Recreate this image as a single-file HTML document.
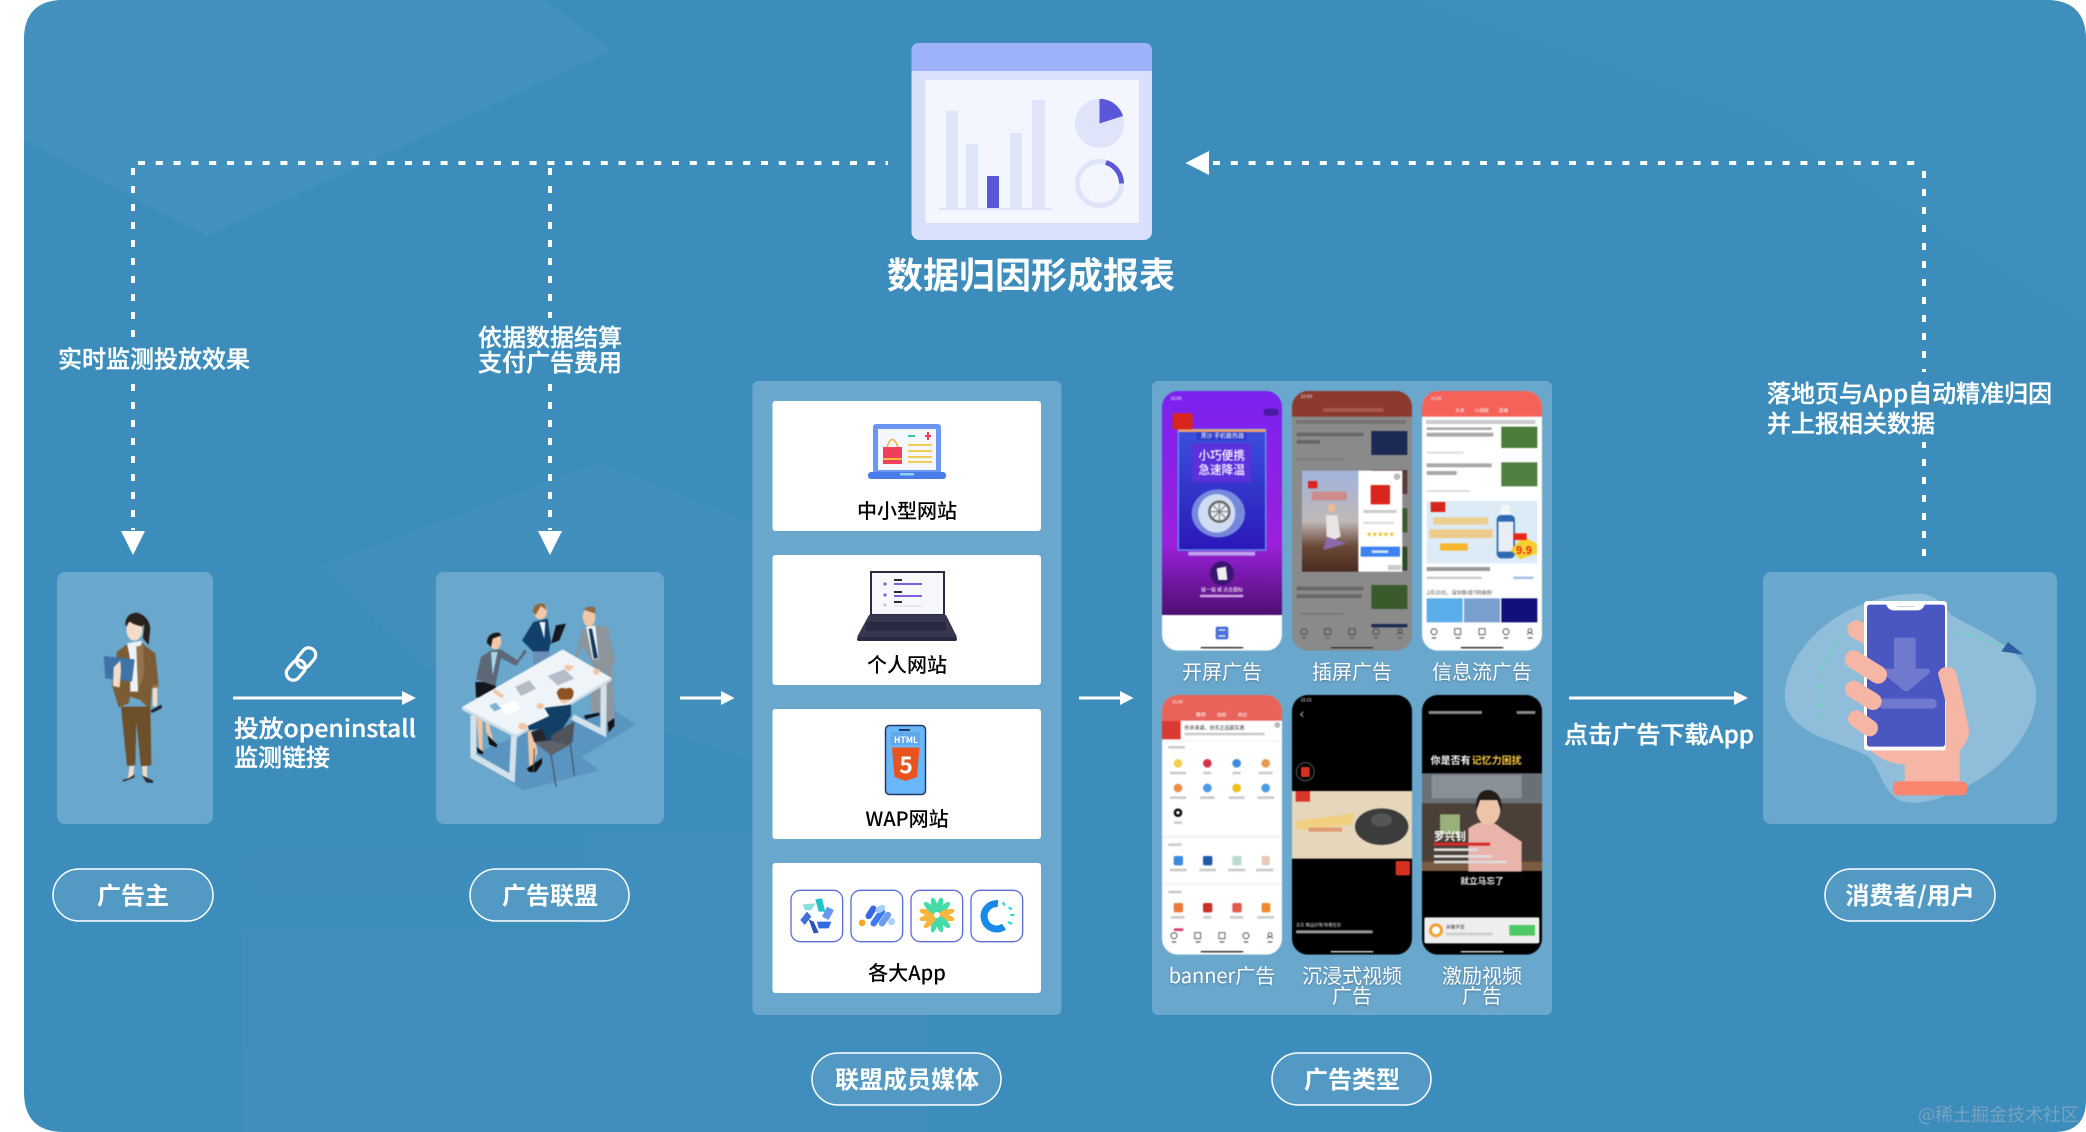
<!DOCTYPE html>
<html><head><meta charset="utf-8"><title>数据归因形成报表</title>
<style>
html,body{margin:0;padding:0;background:#fff;width:2086px;height:1132px;overflow:hidden}
svg{display:block}
text{font-family:"Noto Sans CJK SC","Liberation Sans",sans-serif}
.w{fill:#fff;font-size:24px;font-weight:500;stroke:#fff;stroke-width:.35}
.b{fill:#fff;font-size:24px;font-weight:700}
.k{fill:#000;font-size:20px;text-anchor:middle;font-weight:500}
.l{fill:#fff;font-size:20px;text-anchor:middle;font-weight:400}
.m{text-anchor:middle}
.pill{fill:#529ac4;stroke:#fff;stroke-width:1.5}
.box{fill:#6aa7cd}
.dh{stroke:#fff;stroke-width:4;fill:none;stroke-dasharray:7 10.8}
.dv{stroke:#fff;stroke-width:4;fill:none;stroke-dasharray:7 11}
.soft{filter:blur(1.4px)}
</style></head><body>
<svg width="2086" height="1132" viewBox="0 0 2086 1132" xmlns="http://www.w3.org/2000/svg">
<defs>
<clipPath id="bgc"><path d="M64 0H2046Q2086 0 2086 40V1100Q2086 1132 2054 1132H64Q24 1132 24 1092V40Q24 0 64 0Z"/></clipPath>
<linearGradient id="bg2" x1="0" y1="0" x2="0" y2="1"><stop offset="0" stop-color="#4490bd" stop-opacity="0"/><stop offset="1" stop-color="#4490bd" stop-opacity=".7"/></linearGradient>
<linearGradient id="p1" x1="0" y1="0" x2="0" y2="1"><stop offset="0" stop-color="#7a22f0"/><stop offset=".68" stop-color="#9c20dc"/><stop offset="1" stop-color="#4d0f70"/></linearGradient>
<linearGradient id="p1c" x1="0" y1="0" x2="0" y2="1"><stop offset="0" stop-color="#3c50dc"/><stop offset="1" stop-color="#2a18b8"/></linearGradient>
<linearGradient id="p2i" x1="0" y1="0" x2="0" y2="1"><stop offset="0" stop-color="#a0b4dc"/><stop offset=".5" stop-color="#c0b8b8"/><stop offset=".75" stop-color="#6a4a36"/><stop offset="1" stop-color="#4a2a1e"/></linearGradient>
<clipPath id="c1"><rect x="36" y="33" width="360" height="779" rx="48"/></clipPath>
<clipPath id="c2"><rect x="426" y="33" width="360" height="779" rx="48"/></clipPath>
<clipPath id="c3"><rect x="816" y="33" width="360" height="779" rx="48"/></clipPath>
<clipPath id="c4"><rect x="36" y="30" width="360" height="779" rx="48"/></clipPath>
<clipPath id="c5"><rect x="426" y="30" width="360" height="779" rx="48"/></clipPath>
<clipPath id="c6"><rect x="816" y="30" width="360" height="779" rx="48"/></clipPath>
<g id="nav"><circle cx="0" cy="0" r="9" fill="none" stroke="#444" stroke-width="2.5"/><rect x="-7" y="17" width="14" height="4" fill="#666"/><rect x="62" y="-9" width="18" height="18" fill="none" stroke="#444" stroke-width="2.5"/><rect x="65" y="17" width="14" height="4" fill="#666"/><rect x="135" y="-9" width="18" height="18" fill="none" stroke="#444" stroke-width="2.5"/><rect x="137" y="17" width="14" height="4" fill="#666"/><circle cx="216" cy="0" r="9" fill="none" stroke="#444" stroke-width="2.5"/><rect x="209" y="17" width="14" height="4" fill="#666"/><circle cx="288" cy="-3" r="6" fill="none" stroke="#444" stroke-width="2.5"/><path d="M279 9Q288 -3 297 9" fill="none" stroke="#444" stroke-width="2.5"/><rect x="281" y="17" width="14" height="4" fill="#666"/></g>
</defs>

<!-- background -->
<g clip-path="url(#bgc)">
<rect x="0" y="0" width="2086" height="1132" fill="#3d8dbc"/>
<polygon points="24,140 206,236 612,50 545,0 24,0" fill="#4391be"/>
<polygon points="1410,0 2086,0 2086,325 1760,120" fill="#3f8fbc"/>
<polygon points="320,566 600,462 752,523 752,760 660,730 430,670" fill="#408fbc"/>
<rect x="243" y="830" width="340" height="302" fill="url(#bg2)"/>
<rect x="583" y="830" width="345" height="302" fill="#418fbd" opacity=".7"/>
</g>

<!-- dashed routes -->
<path class="dh" d="M138 163H888"/>
<path class="dv" d="M133 168V530"/>
<path class="dv" d="M550 168V530"/>
<polygon points="121,531 145,531 133,555" fill="#fff"/>
<polygon points="538,531 562,531 550,555" fill="#fff"/>
<path class="dh" d="M1213 163H1924"/>
<path class="dv" d="M1924 171V556"/>
<polygon points="1185.5,163 1209,151 1209,175" fill="#fff"/>
<rect x="50" y="338" width="205" height="46" fill="#3d8dbc"/>
<rect x="470" y="318" width="160" height="66" fill="#3d8dbc"/>
<rect x="1760" y="372" width="300" height="70" fill="#3d8dbc"/>
<text class="w" x="58" y="367.5">实时监测投放效果</text>
<text class="w m" x="550" y="346">依据数据结算</text>
<text class="w m" x="550" y="371">支付广告费用</text>
<text class="w" x="1767" y="402">落地页与App自动精准归因</text>
<text class="w" x="1767" y="432">并上报相关数据</text>

<!-- report -->
<rect x="911.5" y="43" width="240.5" height="197" rx="8" fill="#d9e0fb"/>
<path d="M911.5 71V51Q911.5 43 919.5 43H1144Q1152 43 1152 51V71Z" fill="#9db2fb"/>
<rect x="925.5" y="80" width="213.5" height="143" fill="#f3f6fe"/>
<rect x="946" y="111" width="12" height="98" fill="#dfe4fb"/>
<rect x="966" y="144" width="12" height="65" fill="#dfe4fb"/>
<rect x="987" y="176" width="12" height="33" fill="#5858d8"/>
<rect x="1010" y="133" width="12" height="76" fill="#dfe4fb"/>
<rect x="1032" y="100" width="13" height="109" fill="#dfe4fb"/>
<rect x="939" y="208" width="113" height="2" fill="#dfe4fb"/>
<circle cx="1099.5" cy="123.5" r="24.5" fill="#dfe4fb"/>
<path d="M1099.5 123.5V99L1103 99A24.5 24.5 0 0 1 1123 116Z" fill="#5858d8"/>
<circle cx="1099.5" cy="183.5" r="22" fill="none" stroke="#dfe4fb" stroke-width="5"/>
<path d="M1106 162.5A22 22 0 0 1 1121.5 183.5" fill="none" stroke="#5858d8" stroke-width="5"/>
<text class="b m" x="1031" y="288" style="font-size:36px">数据归因形成报表</text>

<!-- arrows -->
<path d="M233 698H404" stroke="#fff" stroke-width="3"/><polygon points="402,691 416,698 402,705" fill="#fff"/>
<path d="M680 698H723" stroke="#fff" stroke-width="3"/><polygon points="721,691 734.5,698 721,705" fill="#fff"/>
<path d="M1079 698H1122" stroke="#fff" stroke-width="3"/><polygon points="1120,691 1133.5,698 1120,705" fill="#fff"/>
<path d="M1569 698H1736" stroke="#fff" stroke-width="3"/><polygon points="1734,691 1748,698 1734,705" fill="#fff"/>
<g transform="translate(301,664) rotate(40)" fill="none" stroke="#fff" stroke-width="3.2">
<rect x="-7" y="-19" width="14" height="22" rx="7"/><rect x="-7" y="-3" width="14" height="22" rx="7"/></g>
<text class="w" x="234" y="737" textLength="182" lengthAdjust="spacingAndGlyphs">投放openinstall</text>
<text class="w" x="234" y="766">监测链接</text>
<text class="w" x="1564" y="743" textLength="190" lengthAdjust="spacingAndGlyphs">点击广告下载App</text>

<!-- boxes -->
<rect class="box" x="57" y="572" width="156" height="252" rx="8"/>
<rect class="box" x="436" y="572" width="228" height="252" rx="8"/>
<rect class="box" x="1763" y="572" width="294" height="252" rx="8"/>

<!-- pills -->
<rect class="pill" x="53" y="869" width="160" height="52" rx="26"/><text class="b m" x="133" y="904">广告主</text>
<rect class="pill" x="470" y="869" width="159" height="52" rx="26"/><text class="b m" x="550" y="904">广告联盟</text>
<rect class="pill" x="812" y="1053" width="189" height="52" rx="26"/><text class="b m" x="907" y="1088">联盟成员媒体</text>
<rect class="pill" x="1272" y="1053" width="159" height="52" rx="26"/><text class="b m" x="1352" y="1088">广告类型</text>
<rect class="pill" x="1825" y="869" width="170" height="52" rx="26"/><text class="b m" x="1910" y="904">消费者/用户</text>

<!-- advertiser (3x crop coords) -->
<g transform="translate(57,590) scale(.33333)" class="soft">
<path d="M205 105Q205 70 240 68Q275 78 280 115L275 165L258 145L262 105L212 112Z" fill="#2a211c"/>
<ellipse cx="232" cy="120" rx="24" ry="32" fill="#f5dcc6"/>
<path d="M205 105Q220 78 250 85L258 110Q230 105 218 95Z" fill="#2a211c"/>
<path d="M180 185L215 160L255 160L295 190L305 285L285 290L280 360L250 330L220 320L215 340L185 352L165 285Z" fill="#7c5c35"/>
<path d="M210 160L255 152L246 200L243 305H220L218 200Z" fill="#eef2f6"/>
<path d="M238 170L258 165L262 250L243 305Z" fill="#94734a"/>
<path d="M192 350L280 350L283 525L252 530L238 395L235 525L210 528Z" fill="#6d4f29"/>
<polygon points="140,198 233,208 225,275 145,265" fill="#3f73a8"/>
<path d="M168 288L170 232L190 212L192 240L188 292Z" fill="#f5dcc6"/>
<rect x="287" y="290" width="14" height="60" rx="6" fill="#f5dcc6"/>
<path d="M282 290L306 280L304 292L284 295Z" fill="#94734a"/>
<path d="M280 362L312 344Q318 350 312 356L285 369Z" fill="#1b2430"/>
<path d="M218 528L232 528L228 562L212 568Z" fill="#f5dcc6"/><path d="M255 528L270 528L270 565L258 560Z" fill="#f5dcc6"/>
<path d="M196 570Q215 568 232 553L232 562L200 575Z" fill="#2b2626"/>
<path d="M255 556L288 572V579L268 577Z" fill="#2b2626"/>
</g>

<!-- team (3x crop coords) -->
<g transform="translate(436,572) scale(.33333)" class="soft">
<polygon points="100,550 262,655 490,595 435,555 600,458 525,410 300,470" fill="#5a94c0"/>
<!-- left woman -->
<path d="M122 372L122 445L130 540L140 540L140 445Z" fill="#eec3a2"/><path d="M145 375L150 480L175 520L165 480Z" fill="#eec3a2"/>
<path d="M122 525L142 540L140 548L125 542Z" fill="#111"/><path d="M155 490L184 518L182 526L160 518Z" fill="#111"/>
<path d="M118 330H180L176 378L120 376Z" fill="#12151c"/>
<path d="M135 255L165 235L195 232L245 265L265 232L272 240L240 282L195 258L178 342L120 322Z" fill="#5c6878"/>
<path d="M165 240H185L170 310Z" fill="#a8d4ec"/>
<ellipse cx="178" cy="208" rx="18" ry="24" fill="#f2c7a8"/><path d="M152 212Q155 180 190 182L196 190L170 200L165 225Z" fill="#1a1a1e"/>
<!-- center woman -->
<path d="M290 232L340 228L342 250L292 280Z" fill="#6b8fb6"/>
<path d="M258 205L292 150L335 140L345 210L338 238L290 238Z" fill="#12406c"/>
<path d="M310 150H328L325 200Z" fill="#eef2f6"/>
<ellipse cx="313" cy="118" rx="20" ry="24" fill="#f2c7a8"/><path d="M290 118Q295 90 325 95L332 115L315 102L298 130Z" fill="#94683c"/>
<polygon points="345,215 360,160 390,155 370,205" fill="#15181e"/>
<!-- man -->
<path d="M465 335L530 298L535 440L515 475L510 425L465 420Z" fill="#8f969e"/>
<path d="M445 430L490 422V430L448 442Z" fill="#12151c"/><path d="M515 452L535 438V462L518 482Z" fill="#12151c"/>
<path d="M412 272L440 170L470 158L515 165L537 262L522 305L480 300L465 272L443 222Z" fill="#8c949c"/>
<path d="M450 165L478 160L488 260L470 262Z" fill="#eef2f6"/>
<path d="M458 170H468L486 258L473 260Z" fill="#17395e"/>
<ellipse cx="459" cy="135" rx="19" ry="28" fill="#f2c7a8"/><path d="M440 120Q448 98 478 106L478 125L442 112Z" fill="#8d6a48"/>
<!-- legs of table -->
<path d="M112 430L112 552L228 618L234 490" fill="none" stroke="#d2e1ea" stroke-width="18"/>
<path d="M503 335L502 482L410 435" fill="none" stroke="#d2e1ea" stroke-width="18"/>
<!-- table -->
<polygon points="78,405 380,232 527,318 240,490" fill="#eef4f8"/>
<polygon points="78,405 240,490 527,318 527,326 240,498 78,414" fill="#ccdbe6"/>
<polygon points="238,345 280,325 300,350 255,372" fill="#b4bcc8"/>
<polygon points="335,312 385,292 415,320 365,340" fill="#b4bcc8"/>
<polygon points="195,402 238,385 252,410 210,428" fill="#fff"/>
<polygon points="160,400 180,392 195,410 175,418" fill="#7fb3d8"/>
<path d="M388 278L415 282L400 298L385 290Z" fill="#f2c7a8"/><path d="M175 350L205 370L198 380L170 360Z" fill="#f2c7a8"/>
<path d="M470 292L492 292L488 308L474 308Z" fill="#f2c7a8"/><ellipse cx="260" cy="463" rx="14" ry="10" fill="#f2c7a8"/>
<ellipse cx="313" cy="402" rx="11" ry="9" fill="#f2c7a8"/>
<!-- seated woman -->
<path d="M275 480L290 470L305 540L288 595L280 590Z" fill="#f0c5a5"/>
<path d="M272 590L295 575L318 558V575L300 600L280 600Z" fill="#111"/>
<path d="M285 480L330 465L395 505L340 532L295 510Z" fill="#24272f"/>
<path d="M275 462L340 432L325 408L345 405L405 398L405 430L360 500L335 515L318 470L280 475Z" fill="#123f66"/>
<ellipse cx="385" cy="372" rx="18" ry="22" fill="#f2c7a8"/>
<path d="M362 362Q370 342 390 350Q410 342 413 362Q410 388 395 382Q372 385 368 378Z" fill="#8e5224"/>
<path d="M345 490L415 448L410 510L350 548Z" fill="#4e535c"/>
<path d="M295 510L345 550L400 520L345 505Z" fill="#5e636c"/>
<path d="M345 545L360 645M402 510L415 610M295 530L293 598" stroke="#444a52" stroke-width="3" fill="none"/>
</g>

<!-- consumer (3x crop coords) -->
<g transform="translate(1763,572) scale(.33333)">
<path d="M65 370C70 230 230 70 460 65C520 65 545 100 560 125C620 170 820 230 820 370C815 500 690 620 560 665C500 695 430 700 400 680C350 640 345 570 310 550C240 510 65 490 65 370Z" fill="#90bdd9"/>
<path d="M172 435Q140 290 250 170" fill="none" stroke="#57e0a8" stroke-width="4" stroke-dasharray="14 14"/>
<path d="M560 180Q650 190 720 225" fill="none" stroke="#57e0a8" stroke-width="4" stroke-dasharray="14 14"/>
<polygon points="715,238 735,210 782,248" fill="#2e5fa0"/>
<path d="M425 570H590V640H425Z" fill="#f5b6a6"/>
<path d="M318 530Q360 575 430 578L590 575V530Z" fill="#f5b6a6"/>
<path d="M280 172L320 195" stroke="#f5b6a6" stroke-width="54" stroke-linecap="round"/>
<rect x="303" y="87" width="249" height="448" rx="10" fill="#fff"/>
<rect x="312" y="98" width="234" height="426" rx="8" fill="#4a57c0"/>
<path d="M367 92H488Q480 115 465 115H390Q375 115 367 92Z" fill="#fff"/>
<rect x="403" y="102" width="52" height="2.5" fill="#c0c8d0"/>
<rect x="393" y="197" width="65" height="95" rx="6" fill="#7079cd"/>
<path d="M362 290H492Q505 292 498 305L438 355Q430 360 422 355L360 305Q355 292 362 290Z" fill="#7079cd"/>
<rect x="345" y="380" width="177" height="30" rx="15" fill="#7079cd"/>
<path d="M525 305Q530 285 555 285Q575 285 582 310L618 470Q620 505 590 535H548V390Z" fill="#f5b6a6"/>
<path d="M272 262L345 308" stroke="#f5b6a6" stroke-width="54" stroke-linecap="round"/>
<path d="M272 352L330 388" stroke="#f5b6a6" stroke-width="52" stroke-linecap="round"/>
<path d="M280 440L320 468" stroke="#f5b6a6" stroke-width="50" stroke-linecap="round"/>
<rect x="390" y="628" width="222" height="42" rx="14" fill="#fb866f"/>
</g>

<!-- media panel -->
<rect class="box" x="752.5" y="381" width="309" height="634" rx="6"/>
<rect x="772.5" y="401" width="268.5" height="130" rx="3" fill="#fff"/>
<rect x="772.5" y="555" width="268.5" height="130" rx="3" fill="#fff"/>
<rect x="772.5" y="709" width="268.5" height="130" rx="3" fill="#fff"/>
<rect x="772.5" y="863" width="268.5" height="130" rx="3" fill="#fff"/>
<text class="k" x="907" y="518">中小型网站</text>
<text class="k" x="907" y="672">个人网站</text>
<text class="k" x="907" y="826">WAP网站</text>
<text class="k" x="907" y="980">各大App</text>
<!-- laptop 1 -->
<rect x="873" y="424" width="68" height="50" rx="3" fill="#6b97f0"/>
<rect x="878" y="429" width="58" height="41" fill="#f4f7fb"/>
<rect x="868" y="472" width="78" height="7" rx="3" fill="#4a7be8"/>
<rect x="900" y="473" width="14" height="2.5" fill="#8bd2f2"/>
<path d="M883 447H902V464H883Z" fill="#ef3f5b"/><path d="M887 447Q892 432 898 447" fill="none" stroke="#e9b43a" stroke-width="1.5"/>
<rect x="883" y="458" width="19" height="2" fill="#f0c04a"/>
<rect x="908" y="444" width="24" height="2" fill="#f2cc52"/><rect x="908" y="450" width="24" height="2" fill="#f2cc52"/><rect x="908" y="456" width="24" height="2" fill="#f2cc52"/><rect x="908" y="461" width="24" height="2" fill="#f2cc52"/>
<rect x="908" y="435" width="7" height="2" fill="#3fc8a8"/><rect x="925" y="435" width="6" height="2" fill="#ef3f5b"/><rect x="927" y="432" width="2" height="8" fill="#ef3f5b"/>
<!-- laptop 2 -->
<rect x="870" y="571" width="75" height="45" fill="#2a2b42"/>
<rect x="872" y="573" width="71" height="41" fill="#f7f8fc"/>
<polygon points="869,615 946,615 957,637 857,637" fill="#37384f"/>
<rect x="857" y="637" width="100" height="4" rx="2" fill="#2a2b42"/>
<rect x="894" y="583" width="28" height="2" fill="#7a63d8"/><rect x="894" y="595" width="28" height="2" fill="#7a63d8"/><rect x="894" y="605" width="28" height="2" fill="#e8e8ee"/>
<rect x="894" y="579" width="8" height="2" fill="#2a2b42"/><rect x="894" y="591" width="8" height="2" fill="#2a2b42"/><rect x="894" y="601" width="8" height="2" fill="#2a2b42"/>
<circle cx="885" cy="584" r="1.6" fill="#7a63d8"/><circle cx="885" cy="595" r="1.6" fill="#7a63d8"/><circle cx="885" cy="605" r="1.6" fill="#ccc"/>
<rect x="866" y="622" width="80" height="9" fill="#2a2b42"/>
<!-- html5 phone -->
<rect x="885.5" y="725.5" width="40" height="69" rx="4" fill="#69b6f8" stroke="#223a66" stroke-width="1.5"/>
<rect x="899" y="729" width="11" height="2" fill="#223a66"/>
<rect x="891" y="732" width="29" height="13" fill="#61a8e8"/>
<text x="906" y="743" class="m" style="font-size:8.5px;font-weight:700;fill:#fff">HTML</text>
<polygon points="892,747.5 919.5,747.5 917,777 905.7,781 894.5,777" fill="#e85420"/>
<text x="906" y="773" class="m" style="font-size:23px;font-weight:700;fill:#fff">5</text>
<!-- app icons (3x crop coords) -->
<g transform="translate(772,860) scale(.33333)">
<g fill="#fff" stroke="#5b6fd8" stroke-width="4">
<rect x="57" y="91" width="155" height="154" rx="28"/><rect x="237" y="91" width="155" height="154" rx="28"/><rect x="417" y="91" width="155" height="154" rx="28"/><rect x="597" y="91" width="155" height="154" rx="28"/>
</g>
<polygon points="92,133 130,130 118,150 98,150" fill="#88e0dc"/>
<polygon points="130,118 150,115 160,155 140,155" fill="#20c4c8"/>
<polygon points="165,140 186,150 170,180 150,170" fill="#6a9af0"/>
<polygon points="135,185 178,185 170,205 140,205" fill="#2f6ae0"/>
<polygon points="110,178 125,185 140,218 125,220" fill="#2a52b8"/>
<polygon points="105,155 118,170 98,195 85,180" fill="#4070d8"/>
<g stroke-linecap="round" stroke-width="19" fill="none">
<path d="M270 189L271 188" stroke="#f6a821"/>
<path d="M290 168L304 146" stroke="#3667e8"/>
<path d="M305 190L330 155" stroke="#3f78ee"/>
<path d="M320 150L330 144" stroke="#a4cdf8"/>
<path d="M330 190L348 165" stroke="#6a9cf0"/>
<path d="M358 186L360 184" stroke="#a8d0fa"/>
</g>
<g>
<ellipse cx="495" cy="135" rx="9" ry="24" transform="rotate(15 495 165)" fill="#45dca8"/>
<ellipse cx="495" cy="135" rx="9" ry="24" transform="rotate(45 495 165)" fill="#45dca8"/>
<ellipse cx="495" cy="135" rx="9" ry="24" transform="rotate(75 495 165)" fill="#f7b53c"/>
<ellipse cx="495" cy="135" rx="9" ry="24" transform="rotate(105 495 165)" fill="#f7b53c"/>
<ellipse cx="495" cy="135" rx="9" ry="24" transform="rotate(135 495 165)" fill="#45dca8"/>
<ellipse cx="495" cy="135" rx="9" ry="24" transform="rotate(165 495 165)" fill="#45dca8"/>
<ellipse cx="495" cy="135" rx="9" ry="24" transform="rotate(195 495 165)" fill="#45dca8"/>
<ellipse cx="495" cy="135" rx="9" ry="24" transform="rotate(225 495 165)" fill="#f7b53c"/>
<ellipse cx="495" cy="135" rx="9" ry="24" transform="rotate(255 495 165)" fill="#f7b53c"/>
<ellipse cx="495" cy="135" rx="9" ry="24" transform="rotate(285 495 165)" fill="#f7b53c"/>
<ellipse cx="495" cy="135" rx="9" ry="24" transform="rotate(315 495 165)" fill="#45dca8"/>
<ellipse cx="495" cy="135" rx="9" ry="24" transform="rotate(345 495 165)" fill="#45dca8"/>
<circle cx="495" cy="165" r="9" fill="#fff"/>
</g>
<path d="M678 131A38 38 0 1 0 696 200" fill="none" stroke="#1a8ae8" stroke-width="21"/>
<path d="M692 128L699 136M710 142L720 148M715 165H727M708 186L720 192" stroke="#28d8d8" stroke-width="7"/>
</g>

<!-- ads panel -->
<rect class="box" x="1152" y="381" width="400" height="634" rx="6"/>
<g style="filter:drop-shadow(0 1px 1px rgba(0,0,0,.25))">
<text class="l" x="1222" y="679">开屏广告</text>
<text class="l" x="1352" y="679">插屏广告</text>
<text class="l" x="1482" y="679">信息流广告</text>
<text class="l" x="1222" y="983">banner广告</text>
<text class="l" x="1352" y="983">沉浸式视频</text>
<text class="l" x="1352" y="1003">广告</text>
<text class="l" x="1482" y="983">激励视频</text>
<text class="l" x="1482" y="1003">广告</text>
</g>

<g transform="translate(1150,380) scale(.33333)" class="soft">
<!-- phone 1 -->
<g clip-path="url(#c1)">
<rect x="36" y="33" width="360" height="672" fill="url(#p1)"/>
<rect x="36" y="705" width="360" height="107" fill="#fff"/>
<text x="62" y="60" style="font-size:13px;fill:#fff">15:06</text>
<rect x="340" y="86" width="46" height="22" rx="11" fill="#4a1aa0"/>
<rect x="85" y="148" width="262" height="362" fill="url(#p1c)" stroke="#5a9cf0" stroke-width="4"/>
<rect x="85" y="148" width="262" height="8" fill="#f0a070"/>
<rect x="68" y="100" width="60" height="48" fill="#d9251c"/>
<rect x="140" y="156" width="150" height="24" fill="#2c3bc8"/>
<text class="m" x="217" y="174" style="font-size:18px;fill:#fff">黑沙 手机散热器</text>
<rect x="127" y="190" width="175" height="117" fill="#5c30dc"/>
<text class="m" x="215" y="238" style="font-size:35px;font-weight:500;fill:#fff">小巧便携</text>
<text class="m" x="215" y="282" style="font-size:35px;font-weight:500;fill:#fff">急速降温</text>
<ellipse cx="205" cy="400" rx="80" ry="72" fill="#8fa8e4" opacity=".75"/>
<ellipse cx="200" cy="400" rx="56" ry="58" fill="#cfdcf2"/>
<circle cx="208" cy="395" r="32" fill="#e8ecf2"/><circle cx="208" cy="395" r="30" fill="none" stroke="#666" stroke-width="7"/><path d="M208 365V425M178 395H238M187 374L229 416M229 374L187 416" stroke="#777" stroke-width="3"/>
<rect x="115" y="515" width="200" height="12" fill="#c0a0ee"/>
<circle cx="216" cy="580" r="36" fill="#3a1570"/>
<path d="M200 565L228 560L232 600L205 600Z" fill="#eee"/>
<text class="m" x="216" y="634" style="font-size:15px;fill:#fff">摇一摇 或 点击图标</text>
<rect x="150" y="644" width="130" height="8" fill="#c8a0e0"/>
<rect x="197" y="740" width="38" height="38" rx="6" fill="#4b6fd8"/>
<path d="M206 750H226M206 768H226" stroke="#fff" stroke-width="4"/>
<rect x="152" y="801" width="128" height="4" rx="2" fill="#222"/>
</g>
<!-- phone 2 -->
<g clip-path="url(#c2)">
<rect x="426" y="33" width="360" height="779" fill="#8a8a8a"/>
<rect x="426" y="33" width="360" height="77" fill="#8c3a2e"/>
<text x="452" y="54" style="font-size:14px;fill:#eee">15:09</text>
<rect x="520" y="84" width="180" height="12" fill="#a85848"/>
<rect x="438" y="120" width="330" height="12" fill="#757575"/>
<rect x="440" y="158" width="200" height="11" fill="#666"/><rect x="440" y="180" width="70" height="11" fill="#666"/>
<rect x="440" y="235" width="140" height="6" fill="#7a7a7a"/>
<rect x="664" y="153" width="108" height="72" fill="#1c2a55"/>
<rect x="664" y="270" width="108" height="72" fill="#5a3a3a"/>
<rect x="664" y="385" width="108" height="72" fill="#3a5a2c"/>
<rect x="664" y="500" width="108" height="72" fill="#2a4a28"/>
<rect x="664" y="615" width="108" height="72" fill="#3a5a2c"/>
<rect x="440" y="620" width="200" height="11" fill="#666"/><rect x="440" y="643" width="195" height="11" fill="#666"/>
<rect x="450" y="698" width="130" height="6" fill="#7a7a7a"/>
<rect x="664" y="732" width="108" height="10" fill="#1c2a55"/>
<rect x="456" y="272" width="169" height="303" fill="url(#p2i)"/>
<rect x="625" y="272" width="132" height="303" fill="#fff"/>
<rect x="474" y="303" width="28" height="22" fill="#d9251c"/>
<rect x="485" y="335" width="105" height="26" fill="#d87a70" opacity=".7"/>
<ellipse cx="545" cy="385" rx="13" ry="14" fill="#e8b898"/>
<path d="M528 405H562L572 470L530 490Z" fill="#e8e4e4"/>
<path d="M530 470L590 490L520 510Z" fill="#8a6aa8"/>
<circle cx="741" cy="290" r="10" fill="#bbb"/>
<rect x="662" y="315" width="58" height="58" rx="4" fill="#d9251c"/>
<rect x="640" y="390" width="100" height="9" fill="#ccc"/><rect x="640" y="425" width="92" height="7" fill="#ddd"/>
<text class="m" x="691" y="468" style="font-size:17px;fill:#e8c020">★★★★★</text>
<rect x="632" y="500" width="118" height="30" fill="#3b82f0"/>
<rect x="665" y="511" width="50" height="8" fill="#cfe0fb"/>
<rect x="714" y="555" width="40" height="15" fill="#ccc"/>
<use href="#nav" x="462" y="755"/>
<rect x="542" y="801" width="128" height="4" rx="2" fill="#333"/>
</g>
<!-- phone 3 -->
<g clip-path="url(#c3)">
<rect x="816" y="33" width="360" height="779" fill="#fff"/>
<rect x="816" y="33" width="360" height="77" fill="#f5625a"/>
<text x="842" y="60" style="font-size:13px;fill:#fff">15:06</text>
<text x="930" y="96" class="m" style="font-size:14px;fill:#fff">头条</text><text x="995" y="96" class="m" style="font-size:14px;fill:#fff">小视频</text><text x="1060" y="96" class="m" style="font-size:14px;fill:#fff">直播</text>
<rect x="828" y="120" width="328" height="12" fill="#ccc"/>
<rect x="830" y="142" width="195" height="8" fill="#aaa"/><rect x="830" y="158" width="200" height="12" fill="#aaa"/>
<rect x="1054" y="140" width="108" height="64" fill="#4b7d3a"/>
<rect x="830" y="215" width="110" height="6" fill="#ddd"/>
<rect x="830" y="250" width="195" height="12" fill="#aaa"/><rect x="830" y="273" width="90" height="12" fill="#aaa"/>
<rect x="1054" y="247" width="108" height="72" fill="#4f8042"/>
<rect x="830" y="330" width="130" height="6" fill="#ddd"/>
<rect x="830" y="363" width="332" height="187" fill="#dcebf6"/>
<rect x="842" y="366" width="44" height="30" fill="#d9251c"/>
<rect x="850" y="412" width="165" height="22" fill="#ecd090"/>
<rect x="838" y="448" width="190" height="26" fill="#eecb88"/>
<rect x="870" y="490" width="84" height="22" rx="5" fill="#f5b82e"/>
<rect x="1052" y="375" width="28" height="30" rx="6" fill="#f4f6f8"/>
<rect x="1040" y="405" width="55" height="130" rx="14" fill="#2f6ab0"/>
<rect x="1045" y="425" width="45" height="90" fill="#e8eef4"/>
<polygon points="1120,470 1160,490 1162,520 1110,538 1082,510" fill="#f6d02f"/>
<text x="1122" y="522" class="m" style="font-size:32px;font-weight:700;fill:#e8261c">9.9</text>
<rect x="1090" y="460" width="40" height="20" fill="#e8261c"/>
<rect x="830" y="561" width="190" height="12" fill="#999"/>
<rect x="830" y="590" width="165" height="7" fill="#ccc"/><rect x="1090" y="590" width="60" height="7" fill="#9cc0e8"/>
<text x="830" y="644" style="font-size:16px;fill:#555">2月20日，深圳新增7例病例</text>
<rect x="830" y="655" width="108" height="72" fill="#5aaeea"/>
<rect x="942" y="655" width="108" height="72" fill="#7aa0d0"/>
<rect x="1054" y="655" width="108" height="72" fill="#10107a"/>
<use href="#nav" x="852" y="755"/>
<rect x="932" y="801" width="128" height="4" rx="2" fill="#222"/>
</g>
</g>

<g transform="translate(1150,685) scale(.33333)" class="soft">
<!-- phone 4 -->
<g clip-path="url(#c4)">
<rect x="36" y="30" width="360" height="779" fill="#fff"/>
<rect x="36" y="30" width="360" height="77" fill="#e9635a"/>
<text x="66" y="56" style="font-size:13px;fill:#fff">16:04</text>
<text x="153" y="94" class="m" style="font-size:15px;fill:#fff">推荐</text><text x="215" y="94" class="m" style="font-size:14px;fill:#fff">视频</text><text x="278" y="94" class="m" style="font-size:14px;fill:#fff">附近</text>
<rect x="36" y="107" width="56" height="56" fill="#d93a32"/>
<text x="104" y="133" style="font-size:15px;fill:#333">秒杀来袭，抢东正品超实惠</text>
<rect x="104" y="143" width="240" height="8" fill="#ccc"/>
<circle cx="382" cy="120" r="9" fill="#bbb"/>
<rect x="36" y="167" width="360" height="3" fill="#f2f2f2"/>
<rect x="55" y="183" width="50" height="8" fill="#ccc"/>
<circle cx="84" cy="235" r="13" fill="#f4cf50"/><circle cx="172" cy="235" r="13" fill="#d8324a"/><circle cx="260" cy="235" r="13" fill="#3a8ae0"/><circle cx="347" cy="235" r="13" fill="#e89850"/>
<rect x="60" y="260" width="48" height="8" fill="#ccc"/><rect x="160" y="260" width="24" height="8" fill="#ccc"/><rect x="248" y="260" width="24" height="8" fill="#ccc"/><rect x="326" y="260" width="42" height="8" fill="#ccc"/>
<circle cx="84" cy="309" r="13" fill="#ec9048"/><circle cx="172" cy="309" r="13" fill="#4a9ae8"/><circle cx="260" cy="309" r="13" fill="#f0c020"/><circle cx="347" cy="309" r="13" fill="#4a9ae8"/>
<rect x="60" y="334" width="48" height="8" fill="#ccc"/><rect x="150" y="334" width="44" height="8" fill="#ccc"/><rect x="236" y="334" width="48" height="8" fill="#ccc"/><rect x="322" y="334" width="50" height="8" fill="#ccc"/>
<circle cx="84" cy="383" r="13" fill="#111"/><circle cx="84" cy="383" r="5" fill="#fff"/>
<rect x="72" y="409" width="24" height="8" fill="#ccc"/>
<rect x="36" y="450" width="360" height="10" fill="#f5f5f5"/>
<rect x="55" y="475" width="40" height="8" fill="#ccc"/>
<rect x="71" y="513" width="28" height="28" rx="5" fill="#3a8ae0"/><rect x="159" y="513" width="28" height="28" rx="5" fill="#1f5aa8"/><rect x="247" y="513" width="28" height="28" rx="5" fill="#bcdcd0"/><rect x="335" y="513" width="24" height="28" rx="5" fill="#e8c8b8"/>
<rect x="60" y="551" width="50" height="8" fill="#ccc"/><rect x="148" y="551" width="50" height="8" fill="#ccc"/><rect x="234" y="551" width="52" height="8" fill="#ccc"/><rect x="318" y="551" width="52" height="8" fill="#ccc"/>
<rect x="36" y="592" width="360" height="10" fill="#f5f5f5"/>
<rect x="55" y="617" width="40" height="8" fill="#ccc"/>
<rect x="71" y="654" width="28" height="28" rx="5" fill="#ec7b3a"/><rect x="159" y="654" width="28" height="28" rx="5" fill="#c9302a"/><rect x="247" y="654" width="28" height="28" rx="5" fill="#e05a50"/><rect x="335" y="654" width="26" height="28" rx="5" fill="#f08a30"/>
<rect x="62" y="693" width="42" height="8" fill="#ccc"/><rect x="160" y="693" width="24" height="8" fill="#ccc"/><rect x="240" y="693" width="40" height="8" fill="#ccc"/><rect x="322" y="693" width="50" height="8" fill="#ccc"/>
<rect x="72" y="730" width="28" height="8" fill="#d83a6a"/>
<use href="#nav" x="72" y="752"/>
<rect x="152" y="798" width="128" height="4" rx="2" fill="#222"/>
</g>
<!-- phone 5 -->
<g clip-path="url(#c5)">
<rect x="426" y="30" width="360" height="779" fill="#000"/>
<text x="452" y="50" style="font-size:13px;fill:#fff">15:15</text>
<path d="M460 80L452 88L460 95" stroke="#ccc" stroke-width="2.5" fill="none"/>
<circle cx="466" cy="260" r="27" fill="none" stroke="#888" stroke-width="2"/>
<rect x="453" y="246" width="26" height="30" rx="3" fill="#d8321f"/>
<rect x="426" y="318" width="360" height="203" fill="#e6d6bb"/>
<rect x="437" y="318" width="43" height="32" fill="#d9352a"/>
<polygon points="438,408 612,385 606,420 440,435" fill="#f0d080"/>
<rect x="476" y="428" width="100" height="12" fill="#e09a70"/>
<ellipse cx="695" cy="425" rx="80" ry="55" fill="#3c3c3c"/><ellipse cx="695" cy="405" rx="32" ry="20" fill="#555"/>
<rect x="737" y="528" width="43" height="43" rx="5" fill="#d8321f"/>
<text x="438" y="724" style="font-size:13px;fill:#ddd">京东 精品好物 特惠狂欢</text>
<rect x="438" y="736" width="230" height="9" fill="#999"/>
<rect x="542" y="798" width="128" height="4" rx="2" fill="#ddd"/>
</g>
<!-- phone 6 -->
<g clip-path="url(#c6)">
<rect x="816" y="30" width="360" height="779" fill="#000"/>
<rect x="836" y="78" width="160" height="9" fill="#888"/><rect x="1100" y="78" width="56" height="9" fill="#888"/>
<text x="842" y="237" style="font-size:30px;font-weight:700;fill:#fff">你是否有</text>
<text x="965" y="237" style="font-size:30px;font-weight:700;fill:#f5c842">记忆力困扰</text>
<rect x="816" y="265" width="360" height="293" fill="#4a4038"/>
<rect x="816" y="265" width="360" height="90" fill="#6a7078"/>
<rect x="845" y="270" width="270" height="70" fill="#8a9098"/>
<rect x="816" y="530" width="360" height="28" fill="#7a5a40"/>
<rect x="870" y="388" width="60" height="60" fill="#9ab07a"/>
<path d="M955 560V430Q1010 390 1055 430L1115 470V560Z" fill="#e8b4ac"/>
<ellipse cx="1015" cy="375" rx="36" ry="45" fill="#eec4a8"/>
<path d="M978 380Q975 315 1015 315Q1058 318 1054 380L1042 345L990 345Z" fill="#241c18"/>
<text x="852" y="465" style="font-size:32px;font-weight:700;fill:#fff">罗兴钊</text>
<rect x="850" y="473" width="170" height="9" fill="#d82a2a"/>
<rect x="852" y="490" width="130" height="8" fill="#ddd"/><rect x="852" y="510" width="175" height="8" fill="#ddd"/><rect x="852" y="527" width="218" height="8" fill="#ddd"/>
<text class="m" x="996" y="597" style="font-size:26px;font-weight:700;fill:#eee">就立马忘了</text>
<rect x="823" y="697" width="345" height="78" rx="5" fill="#eee"/>
<circle cx="858" cy="736" r="21" fill="#f0a030"/><circle cx="858" cy="736" r="12" fill="#fff"/>
<text x="888" y="731" style="font-size:14px;fill:#333">米推学堂</text>
<rect x="888" y="743" width="140" height="8" fill="#ccc"/>
<rect x="1078" y="720" width="77" height="32" rx="2" fill="#4cc864"/>
<rect x="932" y="798" width="128" height="4" rx="2" fill="#ddd"/>
</g>
</g>

<text x="1918" y="1121" style="font-size:18px;fill:#77a3c0">@稀土掘金技术社区</text>
</svg>
</body></html>
